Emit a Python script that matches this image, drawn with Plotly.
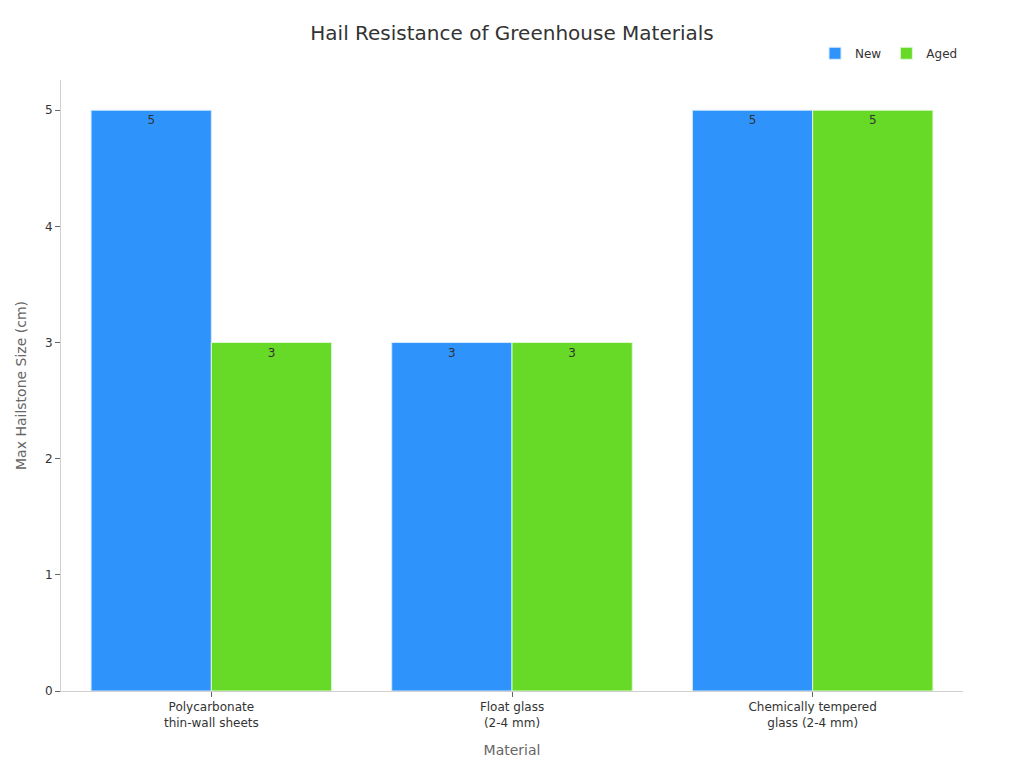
import plotly.graph_objects as go

categories = ["Polycarbonate<br>thin-wall sheets", "Float glass<br>(2-4 mm)", "Chemically tempered<br>glass (2-4 mm)"]
new_values = [5, 3, 5]
aged_values = [3, 3, 5]

FONT = "DejaVu Sans"

fig = go.Figure()
fig.add_trace(go.Bar(
    name="New", x=categories, y=new_values,
    marker=dict(color="#2E93FA", line=dict(color="#D6E9FE", width=1)),
    text=new_values, textposition="inside", insidetextanchor="end",
    textfont=dict(color="#333333", size=12, family=FONT),
))
fig.add_trace(go.Bar(
    name="Aged", x=categories, y=aged_values,
    marker=dict(color="#66DA26", line=dict(color="#E0F7D4", width=1)),
    text=aged_values, textposition="inside", insidetextanchor="end",
    textfont=dict(color="#333333", size=12, family=FONT),
))

fig.update_layout(
    width=1024, height=768,
    paper_bgcolor="white", plot_bgcolor="white",
    font=dict(family=FONT, color="#333333", size=12),
    title=dict(text="Hail Resistance of Greenhouse Materials", xref="paper", x=0.5, xanchor="center",
               y=0.967, yanchor="middle", font=dict(size=20, color="#333333", family=FONT)),
    barmode="group", bargap=0.2, bargroupgap=0,
    margin=dict(l=51, r=69, t=72, b=85),
    legend=dict(orientation="h", x=1, xanchor="right", y=1.02, yanchor="bottom",
                font=dict(size=12, color="#333333"), itemwidth=30),
    xaxis=dict(title=dict(text="Material", font=dict(size=14, color="#666666"), standoff=16),
               showline=True, linecolor="#D0D0D0", ticks="outside", ticklen=5, tickcolor="#666666",
               tickfont=dict(size=12, color="#333333")),
    yaxis=dict(title=dict(text="Max Hailstone Size (cm)", font=dict(size=14, color="#666666"), standoff=15),
               range=[0, 5.26], dtick=1, showgrid=False, zeroline=False,
               showline=True, linecolor="#D0D0D0", ticks="outside", ticklen=5, tickcolor="#666666",
               tickfont=dict(size=12, color="#333333")),
)

fig.write_html("out.html")
